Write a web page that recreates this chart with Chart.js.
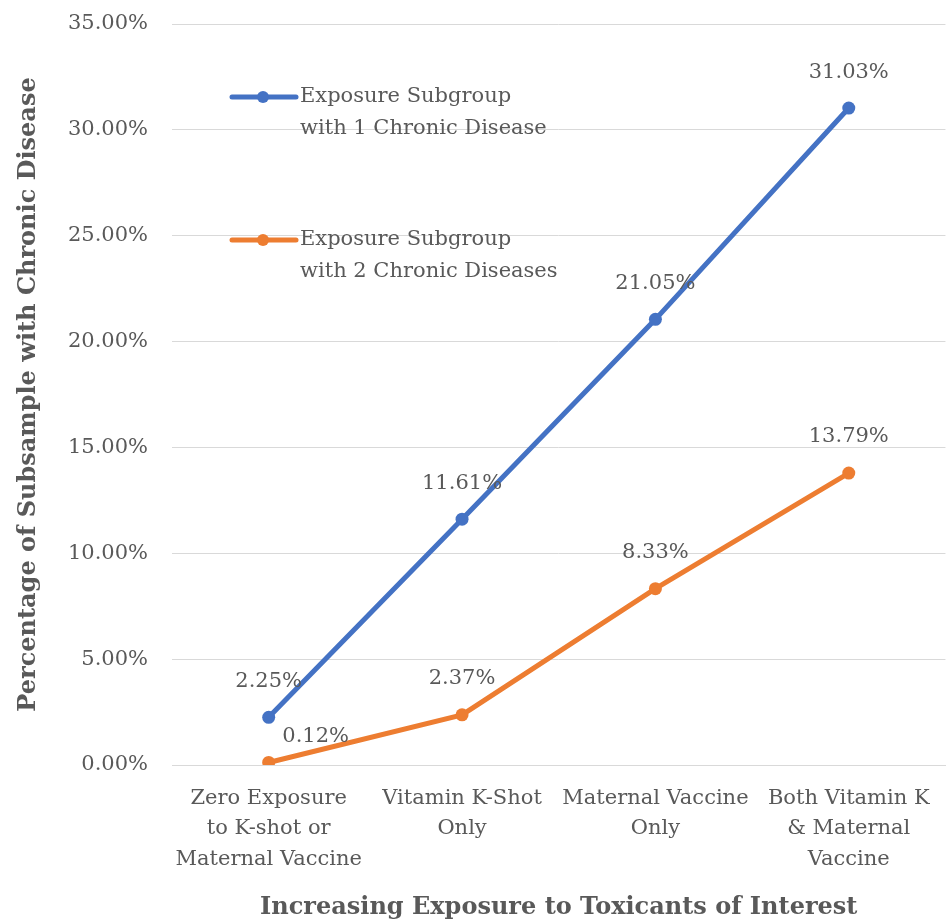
<!DOCTYPE html>
<html>
<head>
<meta charset="utf-8">
<script src="https://cdn.jsdelivr.net/npm/chart.js@4.4.1/dist/chart.umd.min.js"></script>
<style>
  html, body { margin: 0; padding: 0; background: #fff; }
  #wrap { width: 949px; height: 922px; position: relative; }
</style>
</head>
<body>
<div id="wrap"><canvas id="chart"></canvas></div>
<script>
// data
var categories = [
    ["Zero Exposure", "to K-shot or", "Maternal Vaccine"],
    ["Vitamin K-Shot", "Only"],
    ["Maternal Vaccine", "Only"],
    ["Both Vitamin K", "& Maternal", "Vaccine"]
];
var oneDisease = [2.25, 11.61, 21.05, 31.03];
var twoDiseases = [0.12, 2.37, 8.33, 13.79];
var yTicks = [0, 5, 10, 15, 20, 25, 30, 35];
var legendLabels = [
    ["Exposure Subgroup", "with 1 Chronic Disease"],
    ["Exposure Subgroup", "with 2 Chronic Diseases"]
];

var font = "'DejaVu Serif', 'Liberation Serif', serif";
var grey = '#595959';

// value labels above each point
var pointLabels = {
    id: 'pointLabels',
    afterDatasetsDraw: function (chart) {
        var ctx = chart.ctx;
        ctx.save();
        ctx.font = '21px ' + font;
        ctx.fillStyle = grey;
        ctx.textAlign = 'center';
        ctx.textBaseline = 'middle';
        chart.data.datasets.forEach(function (ds, di) {
            chart.getDatasetMeta(di).data.forEach(function (pt, i) {
                var dx = 0, dy = -36;
                if (di === 1 && i === 0) { dx = 47; dy = -26; }
                ctx.fillText(ds.data[i].toFixed(2) + '%', pt.x + dx, pt.y + dy);
            });
        });
        ctx.restore();
    }
};

// legend drawn inside the plot, top left
var innerLegend = {
    id: 'innerLegend',
    afterDraw: function (chart) {
        var ctx = chart.ctx;
        var rows = [97, 240];
        ctx.save();
        chart.data.datasets.forEach(function (ds, di) {
            var y = rows[di];
            ctx.strokeStyle = ds.borderColor;
            ctx.lineWidth = 5;
            ctx.lineCap = 'round';
            ctx.beginPath();
            ctx.moveTo(232, y);
            ctx.lineTo(296, y);
            ctx.stroke();
            ctx.fillStyle = ds.borderColor;
            ctx.beginPath();
            ctx.arc(263, y, 6, 0, Math.PI * 2);
            ctx.fill();
            ctx.font = '21px ' + font;
            ctx.fillStyle = grey;
            ctx.textAlign = 'left';
            ctx.textBaseline = 'middle';
            legendLabels[di].forEach(function (line, k) {
                ctx.fillText(line, 300, y + k * 32);
            });
        });
        ctx.restore();
    }
};

var ctx = document.getElementById('chart').getContext('2d');
new Chart(ctx, {
    type: 'line',
    data: {
        labels: categories,
        datasets: [{
            label: legendLabels[0].join(' '),
            data: oneDisease,
            borderColor: '#4472C4',
            backgroundColor: '#4472C4',
            borderWidth: 5,
            pointRadius: 6.5,
            pointBorderWidth: 0,
            tension: 0
        }, {
            label: legendLabels[1].join(' '),
            data: twoDiseases,
            borderColor: '#ED7D31',
            backgroundColor: '#ED7D31',
            borderWidth: 5,
            pointRadius: 6.5,
            pointBorderWidth: 0,
            tension: 0
        }]
    },
    options: {
        responsive: true,
        maintainAspectRatio: false,
        animation: false,
        layout: { autoPadding: false, padding: { top: 24, right: 3, left: 14, bottom: 0 } },
        plugins: {
            legend: { display: false },
            tooltip: { enabled: false }
        },
        scales: {
            x: {
                offset: true,
                grid: { display: false, drawTicks: false },
                border: { color: '#d9d9d9', width: 1 },
                ticks: {
                    color: grey,
                    font: { family: font, size: 21, lineHeight: 1.43 },
                    padding: 19,
                    maxRotation: 0,
                    autoSkip: false
                },
                title: {
                    display: true,
                    text: 'Increasing Exposure to Toxicants of Interest',
                    color: grey,
                    font: { family: font, size: 24, weight: 'bold' },
                    padding: { top: 10, bottom: 0 }
                },
                afterFit: function (scale) { scale.height = 157; }
            },
            y: {
                min: 0,
                max: 35,
                afterBuildTicks: function (scale) {
                    scale.ticks = yTicks.map(function (v) { return { value: v }; });
                },
                grid: { color: '#d9d9d9', lineWidth: 1, drawTicks: false },
                border: { display: false },
                ticks: {
                    color: grey,
                    font: { family: font, size: 21 },
                    padding: 24,
                    callback: function (v) { return v.toFixed(2) + '%'; }
                },
                title: {
                    display: true,
                    text: 'Percentage of Subsample with Chronic Disease',
                    color: grey,
                    font: { family: font, size: 24, weight: 'bold' },
                    padding: { top: 0, bottom: 4 }
                },
                afterFit: function (scale) {
                    scale.width = 158;
                    scale.paddingTop = 0;
                    scale.paddingBottom = 0;
                }
            }
        }
    },
    plugins: [pointLabels, innerLegend]
});
</script>
</body>
</html>
